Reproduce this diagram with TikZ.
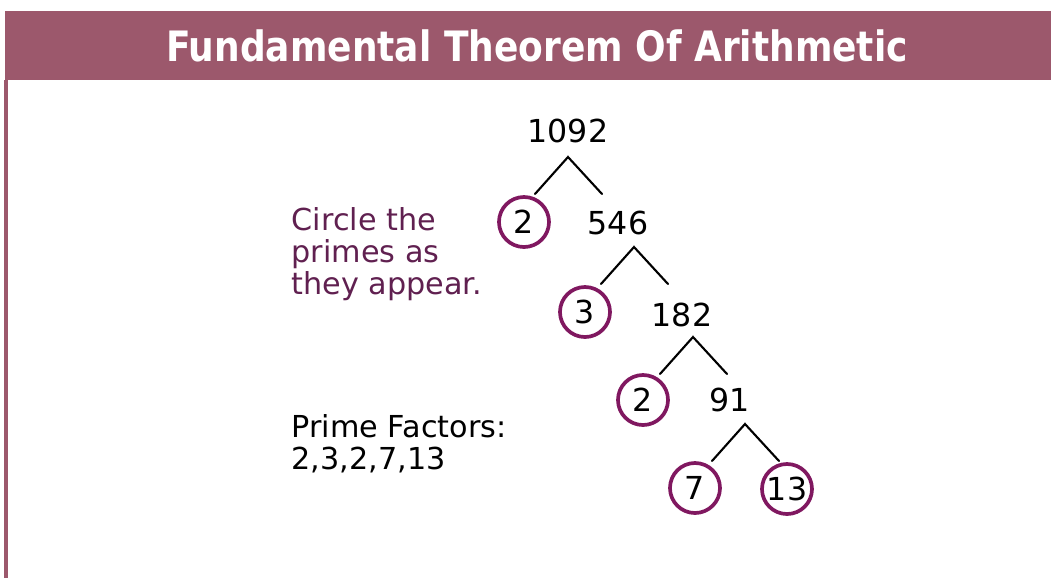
\documentclass[tikz,border=0pt]{standalone}
\usepackage{fontspec}
\setmainfont{DejaVu Sans}
\definecolor{bannermauve}{RGB}{156,88,108}
\definecolor{primeplum}{RGB}{128,24,96}
\definecolor{noteplum}{RGB}{96,32,80}

\begin{document}
\begin{tikzpicture}[x=0.01cm, y=-0.01cm,
		num/.style={font=\fontsize{9}{11}\selectfont, inner sep=0pt},
		prime/.style={num, circle, draw=primeplum, line width=1.05pt, minimum size=0.5cm},
		branch/.style={line width=0.6pt, line cap=round},
		note/.style={font=\fontsize{8.6}{9.1}\selectfont, align=left, anchor=north west, inner sep=0pt}
	]
		\useasboundingbox (0,0) rectangle (1051,578);
		\fill[bannermauve] (5,11) rectangle (1051,80);
		\draw[bannermauve, line width=0.9pt] (6,80) -- (6,578);
		\node[text=white, font=\bfseries\fontsize{11.9}{13}\selectfont] (title) at (537,46)
			{\scalebox{0.86}[1]{Fundamental Theorem Of Arithmetic}};
		% factor tree
		\node[num] (n1092) at (568,131) {1092};
		\node[prime] (p2a) at (524,222) {2};
		\node[num] (n546) at (618,223) {546};
		\node[prime] (p3) at (585,312) {3};
		\node[num] (n182) at (682,315) {182};
		\node[prime] (p2b) at (643,400) {2};
		\node[num] (n91) at (730,400) {91};
		\node[prime] (p7) at (695,488) {7};
		\node[prime] (p13) at (787,489) {13};
		\foreach \t/\x/\y in {1092/568/157, 546/634/247, 182/693/337, 91/745/424} {
			\coordinate (top\t) at (\x,\y);
			\coordinate (left\t) at (\x-33,\y+37);
			\coordinate (right\t) at (\x+34,\y+37);
			\draw[branch] (left\t) -- (top\t) -- (right\t);
		}
		% side notes
		\node[note, text=noteplum] (hint) at (291,207) {Circle the\\primes as\\they appear.};
		\node[note] (factors) at (291,414) {Prime Factors:\\2,3,2,7,13};
	\end{tikzpicture}
\end{document}
